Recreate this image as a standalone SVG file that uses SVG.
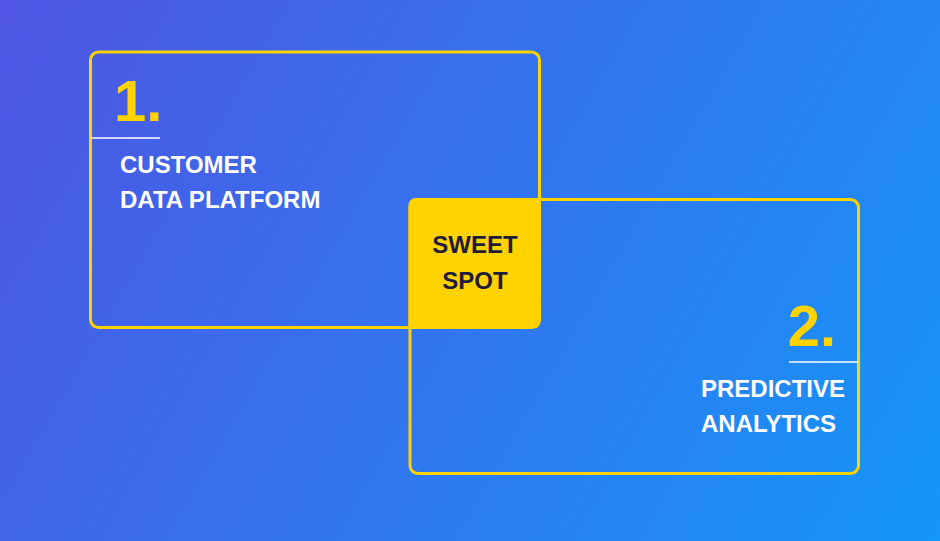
<svg xmlns="http://www.w3.org/2000/svg" width="940" height="541" viewBox="0 0 940 541">
  <defs>
    <linearGradient id="bg" x1="0" y1="0" x2="940" y2="541" gradientUnits="userSpaceOnUse">
      <stop offset="0" stop-color="#4F54E3"/>
      <stop offset="1" stop-color="#1596F9"/>
    </linearGradient>
    <style>
      .frame { fill: none; stroke: #FFD200; stroke-width: 3; }
      .num { font-family: "Liberation Sans", Arial, sans-serif; font-weight: bold; font-size: 58px; fill: #FFD200; }
      .lbl { font-family: "Liberation Sans", Arial, sans-serif; font-weight: bold; font-size: 24px; fill: #FFFFFF; }
      .dark { font-family: "Liberation Sans", Arial, sans-serif; font-weight: bold; font-size: 24px; fill: #1E1E3C; }
      .rule { stroke: #FFFFFF; stroke-width: 1.5; }
    </style>
  </defs>
  <rect width="940" height="541" fill="url(#bg)"/>
  <g id="sweet-spot">
    <path d="M416.5 198 H540.5 V320.5 Q540.5 328.5 532.5 328.5 H408.5 V206 Q408.5 198 416.5 198 Z" fill="#FFD200"/>
    <text class="dark" x="475" y="253" text-anchor="middle">SWEET</text>
    <text class="dark" x="475" y="289" text-anchor="middle">SPOT</text>
  </g>
  <g id="customer-data-platform">
    <rect class="frame" x="90.5" y="52" width="449" height="275.5" rx="8"/>
    <text class="num" x="114" y="121">1.</text>
    <line class="rule" x1="91" y1="138" x2="160" y2="138"/>
    <text class="lbl" x="120" y="173">CUSTOMER</text>
    <text class="lbl" x="120" y="208">DATA PLATFORM</text>
  </g>
  <g id="predictive-analytics">
    <rect class="frame" x="410" y="199.5" width="448.5" height="274" rx="8"/>
    <text class="num" x="836" y="346" text-anchor="end">2.</text>
    <line class="rule" x1="789" y1="362" x2="858" y2="362"/>
    <text class="lbl" x="701" y="397">PREDICTIVE</text>
    <text class="lbl" x="701" y="432">ANALYTICS</text>
  </g>
  <g id="connectors"/>
</svg>
